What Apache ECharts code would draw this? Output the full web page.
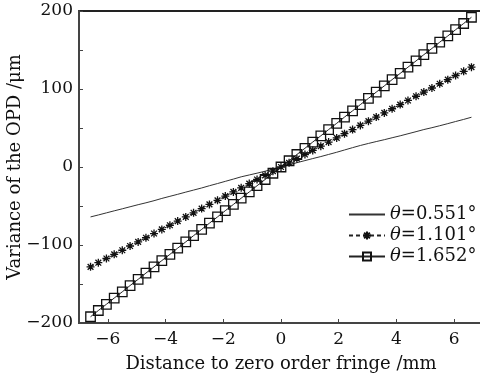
<!DOCTYPE html>
<html><head><meta charset="utf-8">
<script src="https://cdn.jsdelivr.net/npm/echarts@6/dist/echarts.min.js"></script>
<style>html,body{margin:0;padding:0;background:#fff}#c{width:480px;height:376px}</style>
</head><body><div id="c"></div>
<script>
const xValues = [-6.6,-6.33,-6.05,-5.78,-5.5,-5.23,-4.95,-4.68,-4.4,-4.13,-3.85,-3.58,-3.3,-3.03,-2.75,-2.48,-2.2,-1.93,-1.65,-1.38,-1.1,-0.83,-0.55,-0.28,0,0.28,0.55,0.83,1.1,1.38,1.65,1.93,2.2,2.48,2.75,3.03,3.3,3.58,3.85,4.13,4.4,4.68,4.95,5.23,5.5,5.78,6.05,6.33,6.6];
const opd0551 = [-64,-61.5,-58.8,-56.2,-53.6,-51,-48.3,-45.9,-43.2,-40.3,-37.6,-35,-32.2,-29.6,-26.9,-24,-21.2,-18.4,-15.5,-12.6,-10.2,-7.9,-5.4,-2.7,0,2.8,5.5,8.2,10.8,13.4,16.1,18.9,21.8,24.8,27.6,30.2,32.6,35,37.5,40,42.6,45.3,48,50.4,52.9,55.6,58.3,61,63.8];
const opd1101 = [-128,-122.7,-117.3,-112,-106.7,-101.3,-96,-90.7,-85.3,-80,-74.7,-69.3,-64,-58.7,-53.3,-48,-42.7,-37.3,-32,-26.7,-21.3,-16,-10.7,-5.3,0,5.3,10.7,16,21.3,26.7,32,37.3,42.7,48,53.3,58.7,64,69.3,74.7,80,85.3,90.7,96,101.3,106.7,112,117.3,122.7,128];
const opd1652 = [-192,-184,-176,-168,-160,-152,-144,-136,-128,-120,-112,-104,-96,-88,-80,-72,-64,-56,-48,-40,-32,-24,-16,-8,0,8,16,24,32,40,48,56,64,72,80,88,96,104,112,120,128,136,144,152,160,168,176,184,192];
const seriesNames = ['0.551°','1.101°','1.652°'];
const xTicks = [-6,-4,-2,0,2,4,6];
const yTicks = [-200,-100,0,100,200];

const pair = ys => xValues.map((x,i)=>[x, ys[i]]);
const FONT = 'DejaVu Serif';
const fmt = v => String(v).replace('-', '\u2212');
const star = 'path://M0,-5L0,5M-5,0L5,0M-3.6,-3.6L3.6,3.6M-3.6,3.6L3.6,-3.6';

const chart = echarts.init(document.getElementById('c'), null, {renderer:'canvas'});
chart.setOption({
  backgroundColor: '#fff',
  animation: false,
  grid: {left: 79, right: -3, top: 11, bottom: 53, outerBoundsMode: 'none', containLabel: false,
         show: true, borderColor: '#222', borderWidth: 2},
  legend: {
    orient: 'vertical', left: 343, top: 200, itemWidth: 36, itemHeight: 10, itemGap: 2,
    data: seriesNames,
    formatter: n => '{i|θ}=' + n,
    textStyle: {fontFamily: FONT, fontSize: 18, color: '#111', lineHeight: 19,
      rich: {i: {fontFamily: FONT, fontStyle: 'italic', fontSize: 18, color: '#111'}}}
  },
  xAxis: {
    type: 'value', min: -7, max: 7,
    name: 'Distance to zero order fringe /mm', nameLocation: 'middle', nameGap: 32, nameMoveOverlap: false,
    nameTextStyle: {fontFamily: FONT, fontSize: 18, color: '#111'},
    axisLine: {show: true, onZero: false, lineStyle: {color: '#444', width: 2}},
    axisTick: {show: true, inside: true, length: 4, customValues: xTicks, lineStyle: {color: '#444'}},
    axisLabel: {customValues: xTicks, formatter: fmt, fontFamily: FONT, fontSize: 17, color: '#111', margin: 8},
    splitLine: {show: false}
  },
  yAxis: {
    type: 'value', min: -200, max: 200, interval: 50,
    name: 'Variance of the OPD /\u03bcm', nameLocation: 'middle', nameGap: 55, nameMoveOverlap: false,
    nameTextStyle: {fontFamily: FONT, fontSize: 18, color: '#111'},
    axisLine: {show: true, onZero: false, lineStyle: {color: '#444', width: 2}},
    axisTick: {show: true, inside: true, length: 4, lineStyle: {color: '#444'}},
    axisLabel: {formatter: v => (yTicks.indexOf(v) >= 0 ? fmt(v) : ''), fontFamily: FONT, fontSize: 17, color: '#111', margin: 6},
    splitLine: {show: false}
  },
  series: [
    {name: seriesNames[0], type: 'line', data: pair(opd0551), showSymbol: false, symbol: 'none',
     lineStyle: {color: '#333', width: 1}, itemStyle: {color: 'rgba(0,0,0,0)'}},
    {name: seriesNames[1], type: 'line', data: pair(opd1101), symbol: star, symbolSize: 8,
     lineStyle: {color: '#222', width: 1, type: [4, 3]},
     itemStyle: {color: '#111', borderColor: '#111', borderWidth: 1.3}},
    {name: seriesNames[2], type: 'line', data: pair(opd1652), symbol: 'rect', symbolSize: 9.5,
     lineStyle: {color: '#222', width: 1},
     itemStyle: {color: 'rgba(255,255,255,0)', borderColor: '#111', borderWidth: 1.3}}
  ]
});
</script></body></html>
